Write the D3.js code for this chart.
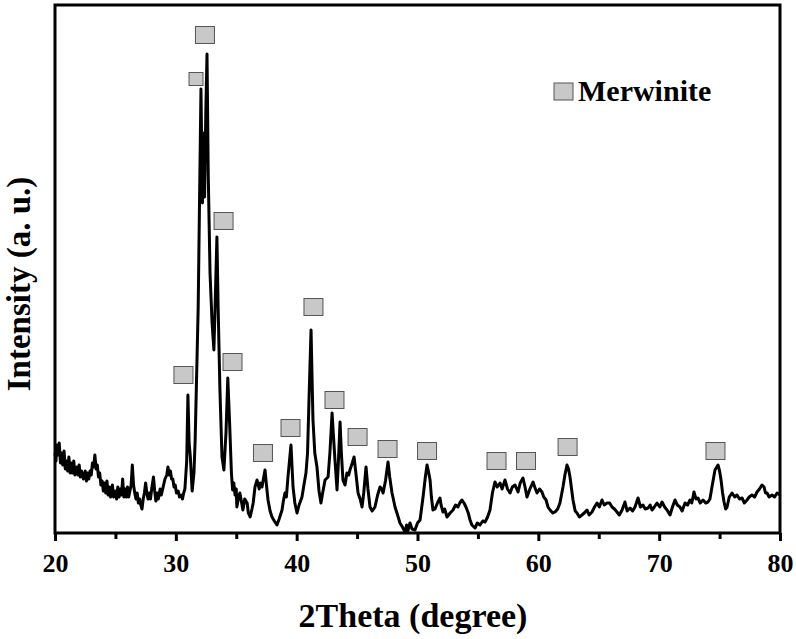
<!DOCTYPE html>
<html>
<head>
  <meta charset='utf-8'>
  <title>XRD Merwinite</title>
  <script src='https://cdn.jsdelivr.net/npm/d3@7/dist/d3.min.js'></script>
  <style type='text/css'>
    body { margin: 0; background: #fff; }
    svg text { font-family: 'Liberation Serif', 'Times New Roman', serif; font-weight: bold; }
  </style>
</head>
<body>
  <div id='plot-container'></div>
  <script>
    // diffraction trace: [2theta, intensity (a.u.)]
    const pattern = [
      [20.0, 80], [20.08, 72], [20.15, 88], [20.25, 78], [20.35, 90], [20.45, 70],
      [20.55, 80], [20.65, 68], [20.75, 82], [20.85, 64], [20.95, 72], [21.05, 62],
      [21.15, 76], [21.25, 60], [21.35, 70], [21.45, 60], [21.55, 72], [21.65, 58],
      [21.8, 66], [21.9, 58], [22.0, 68], [22.1, 56], [22.2, 62], [22.35, 54],
      [22.5, 62], [22.6, 52], [22.7, 60], [22.8, 54], [22.9, 62], [23.0, 58],
      [23.1, 70], [23.2, 66], [23.3, 78], [23.4, 64], [23.5, 68], [23.6, 56],
      [23.7, 60], [23.8, 48], [23.9, 52], [24.0, 42], [24.1, 50], [24.2, 40],
      [24.3, 52], [24.4, 38], [24.5, 46], [24.6, 36], [24.75, 48], [24.85, 36],
      [25.0, 42], [25.1, 34], [25.2, 46], [25.3, 36], [25.4, 44], [25.5, 38],
      [25.6, 54], [25.7, 36], [25.8, 44], [25.9, 36], [26.0, 46], [26.1, 36],
      [26.2, 42], [26.3, 48], [26.4, 68], [26.5, 48], [26.6, 40], [26.7, 34],
      [26.8, 40], [26.9, 30], [27.0, 34], [27.1, 28], [27.2, 24], [27.3, 34],
      [27.4, 40], [27.5, 50], [27.6, 40], [27.7, 34], [27.8, 40], [27.9, 34],
      [28.0, 44], [28.15, 56], [28.25, 42], [28.35, 32], [28.45, 40], [28.55, 34],
      [28.7, 44], [28.8, 38], [28.95, 46], [29.1, 54], [29.25, 58], [29.35, 66],
      [29.45, 58], [29.55, 62], [29.65, 54], [29.75, 54], [29.85, 46], [29.95, 48],
      [30.05, 40], [30.2, 42], [30.3, 36], [30.45, 38], [30.55, 34], [30.65, 40],
      [30.75, 44], [30.9, 72], [31.0, 138], [31.1, 90], [31.2, 76], [31.35, 42],
      [31.5, 60], [31.6, 93], [31.85, 226], [32.08, 444], [32.2, 330], [32.28, 400],
      [32.38, 336], [32.48, 420], [32.58, 479], [32.68, 360], [32.83, 260], [33.0, 210],
      [33.15, 183], [33.25, 226], [33.4, 296], [33.5, 226], [33.65, 143], [33.82, 76],
      [33.98, 63], [34.15, 100], [34.3, 155], [34.45, 110], [34.6, 60], [34.7, 43],
      [34.8, 50], [34.9, 38], [35.0, 44], [35.05, 26], [35.2, 36], [35.3, 40],
      [35.45, 30], [35.55, 23], [35.7, 34], [35.9, 30], [36.0, 20], [36.15, 16],
      [36.3, 24], [36.4, 30], [36.55, 46], [36.72, 53], [36.9, 44], [37.0, 50],
      [37.13, 46], [37.38, 63], [37.5, 48], [37.63, 33], [37.8, 22], [37.96, 16],
      [38.15, 12], [38.37, 8], [38.55, 14], [38.79, 23], [38.9, 32], [39.03, 40],
      [39.15, 36], [39.28, 56], [39.53, 88], [39.7, 46], [39.85, 30], [40.03, 20],
      [40.2, 28], [40.44, 36], [40.6, 48], [40.77, 60], [40.9, 80], [41.02, 133],
      [41.19, 203], [41.35, 113], [41.5, 80], [41.68, 66], [41.85, 42], [42.01, 30],
      [42.15, 40], [42.35, 53], [42.6, 56], [42.75, 80], [42.93, 120], [43.05, 96],
      [43.17, 73], [43.34, 43], [43.45, 70], [43.59, 111], [43.7, 80], [43.83, 53],
      [44.0, 48], [44.16, 60], [44.3, 58], [44.41, 63], [44.6, 70], [44.75, 76],
      [44.9, 60], [45.08, 40], [45.25, 34], [45.41, 26], [45.55, 40], [45.74, 66],
      [45.9, 44], [46.07, 26], [46.25, 22], [46.48, 26], [46.7, 38], [46.9, 46],
      [47.05, 44], [47.15, 40], [47.35, 52], [47.56, 71], [47.7, 56], [47.89, 40],
      [48.0, 34], [48.14, 26], [48.35, 18], [48.55, 10], [48.75, 6], [48.97, 1],
      [49.1, 8], [49.2, 2], [49.38, 10], [49.55, 4], [49.79, 3], [50.0, 10],
      [50.21, 13], [50.46, 36], [50.65, 56], [50.79, 68], [50.9, 62], [51.04, 53],
      [51.15, 36], [51.28, 23], [51.45, 24], [51.65, 30], [51.86, 35], [51.95, 28],
      [52.11, 21], [52.25, 24], [52.44, 16], [52.7, 20], [52.94, 23], [53.15, 28],
      [53.35, 26], [53.5, 30], [53.68, 33], [53.85, 30], [54.01, 26], [54.2, 20],
      [54.35, 13], [54.5, 8], [54.76, 5], [54.95, 10], [55.17, 8], [55.4, 12],
      [55.59, 11], [55.8, 16], [56.0, 23], [56.2, 40], [56.41, 51], [56.6, 46],
      [56.83, 50], [57.0, 44], [57.24, 53], [57.45, 44], [57.66, 40], [57.85, 46],
      [58.07, 48], [58.32, 41], [58.5, 50], [58.73, 55], [58.9, 46], [59.06, 36],
      [59.3, 44], [59.56, 51], [59.7, 46], [59.89, 40], [60.1, 44], [60.3, 41],
      [60.45, 36], [60.64, 33], [60.8, 26], [60.97, 23], [61.2, 20], [61.38, 21],
      [61.6, 24], [61.79, 30], [62.04, 46], [62.2, 58], [62.37, 68], [62.5, 64],
      [62.62, 56], [62.75, 44], [62.87, 33], [63.05, 22], [63.2, 20], [63.4, 16],
      [63.61, 18], [63.8, 20], [64.03, 23], [64.2, 18], [64.44, 21], [64.65, 26],
      [64.86, 30], [65.05, 26], [65.27, 33], [65.45, 28], [65.68, 30], [65.9, 30],
      [66.1, 26], [66.3, 24], [66.51, 21], [66.7, 18], [66.93, 23], [67.17, 31],
      [67.35, 22], [67.59, 25], [67.8, 22], [68.0, 26], [68.25, 35], [68.45, 26],
      [68.66, 28], [68.85, 24], [69.08, 25], [69.25, 28], [69.41, 23], [69.6, 26],
      [69.82, 30], [70.05, 26], [70.24, 31], [70.45, 26], [70.65, 23], [70.9, 18],
      [71.1, 26], [71.31, 33], [71.5, 28], [71.72, 26], [71.9, 22], [72.14, 30],
      [72.35, 28], [72.55, 33], [72.7, 30], [72.88, 41], [73.05, 34], [73.21, 35],
      [73.4, 30], [73.63, 33], [73.85, 30], [74.04, 31], [74.2, 34], [74.37, 46],
      [74.62, 63], [74.87, 68], [75.0, 62], [75.12, 53], [75.25, 40], [75.37, 31],
      [75.5, 24], [75.62, 26], [75.8, 36], [76.03, 40], [76.25, 36], [76.44, 38],
      [76.65, 34], [76.86, 35], [77.05, 30], [77.27, 33], [77.45, 36], [77.68, 38],
      [77.9, 36], [78.1, 41], [78.3, 44], [78.51, 48], [78.68, 46], [78.8, 40],
      [78.93, 40], [79.1, 36], [79.34, 38], [79.55, 36], [79.76, 40], [80.0, 38]
    ];

    // merwinite reflections marked with squares: [2theta, intensity of marker centre]
    const merwinitePeaks = [
      [32.41, 498], [33.95, 312], [30.63, 158], [34.69, 171], [37.21, 80],
      [39.49, 105], [41.39, 226], [43.13, 133], [45.04, 96], [47.52, 84],
      [50.79, 82], [56.54, 72], [58.98, 72], [62.42, 86], [74.66, 82]
    ];
    const merwiniteSmall = [[31.67, 454]];

    const xTicks = [20, 30, 40, 50, 60, 70, 80];
    const xMinorTicks = [25, 35, 45, 55, 65, 75];
    const xTitle = '2Theta (degree)';
    const yTitle = 'Intensity (a. u.)';
    const legendLabel = 'Merwinite';

    const width = 796, height = 639;
    const margin = { top: 5, right: 16, bottom: 106, left: 55 };
    const plotW = width - margin.left - margin.right;
    const plotH = height - margin.top - margin.bottom;

    const svg = d3.select('#plot-container').append('svg')
        .attr('width', width)
        .attr('height', height);
    const g = svg.append('g')
        .attr('transform', `translate(${margin.left}, ${margin.top})`);

    const x = d3.scaleLinear().domain([20, 80]).range([0, plotW]);
    const y = d3.scaleLinear().domain([0, 528]).range([plotH, 0]);

    // trace
    g.append('path')
        .datum(pattern)
        .attr('fill', 'none')
        .attr('stroke', '#000')
        .attr('stroke-width', 3)
        .attr('stroke-linejoin', 'round')
        .attr('d', d3.line().x(d => x(d[0])).y(d => y(d[1])));

    // peak markers
    const drawMarkers = (data, w, h) => {
        g.selectAll(null)
            .data(data)
            .enter()
            .append('rect')
            .attr('x', d => x(d[0]) - w / 2)
            .attr('y', d => y(d[1]) - h / 2)
            .attr('width', w)
            .attr('height', h)
            .attr('fill', '#c8c8c8')
            .attr('stroke', '#555')
            .attr('stroke-width', 1);
    };
    drawMarkers(merwinitePeaks, 19, 17);
    drawMarkers(merwiniteSmall, 14, 13);

    // frame
    g.append('rect')
        .attr('width', plotW)
        .attr('height', plotH)
        .attr('fill', 'none')
        .attr('stroke', '#000')
        .attr('stroke-width', 3);

    // x axis
    const xAxis = g.append('g')
        .attr('transform', `translate(0, ${plotH})`)
        .call(d3.axisBottom(x).tickValues(xTicks).tickSize(8).tickPadding(13).tickFormat(d3.format('d')));
    xAxis.select('.domain').remove();
    xAxis.selectAll('line').attr('stroke-width', 3);
    xAxis.selectAll('text')
        .attr('font-size', 26)
        .attr('fill', '#000');
    g.append('g')
        .attr('transform', `translate(0, ${plotH})`)
        .call(d3.axisBottom(x).tickValues(xMinorTicks).tickSize(6).tickFormat(''))
        .call(a => a.select('.domain').remove())
        .selectAll('line').attr('stroke-width', 3);

    // axis titles
    svg.append('text')
        .attr('x', 413)
        .attr('y', 627)
        .attr('text-anchor', 'middle')
        .attr('font-size', 34)
        .text(xTitle);
    svg.append('text')
        .attr('transform', 'translate(30, 284) rotate(-90)')
        .attr('text-anchor', 'middle')
        .attr('font-size', 33)
        .text(yTitle);

    // legend
    const legend = svg.append('g').attr('transform', 'translate(554, 83)');
    legend.append('rect')
        .attr('width', 19)
        .attr('height', 17)
        .attr('fill', '#c8c8c8')
        .attr('stroke', '#555')
        .attr('stroke-width', 1);
    legend.append('text')
        .attr('x', 24)
        .attr('y', 18)
        .attr('font-size', 30)
        .text(legendLabel);
  </script>
</body>
</html>
